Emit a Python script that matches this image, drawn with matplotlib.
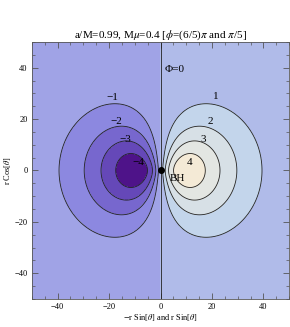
import numpy as np
import matplotlib
matplotlib.use("Agg")
from matplotlib import pyplot as plt

plt.rcParams['font.family'] = ['Liberation Serif', 'DejaVu Serif']
plt.rcParams['mathtext.fontset'] = 'stix'

# contour levels and their labels
levels = [-4, -3, -2, -1, 0, 1, 2, 3, 4]
label_text = ['\u22124', '\u22123', '\u22122', '\u22121', '1', '2', '3', '4']
label_x = [-8.5, -13.6, -17.0, -18.6, 21.3, 19.4, 16.7, 11.2]
label_y = [3.1, 12.0, 19.0, 28.5, 28.9, 19.0, 12.0, 3.1]

# field shape: amplitude and radial scale estimated from the contour sizes
amp = 1.31
scale = 10.0

fill_colors = ['#4e1389', '#6548b8', '#7767ce', '#8c88e0', '#a0a3e6',
               '#b0bbe9', '#c3d5eb', '#d7e0e6', '#e3e6e2', '#f4ead6']

xs = np.linspace(-50, 50, 501)
X, Y = np.meshgrid(xs, xs)
R = np.sqrt(X**2 + Y**2)
Z = amp * X * np.exp(-R / scale)

fig = plt.figure(figsize=(2.9, 3.27), dpi=100)
ax = fig.add_axes([0.110, 0.0856, 0.887, 0.786])

bounds = [-100] + levels + [100]
ax.contourf(X, Y, Z, levels=bounds, colors=fill_colors)
ax.contour(X, Y, Z, levels=levels, colors='#222222', linewidths=0.6,
           linestyles='solid')

for t, lx, ly in zip(label_text, label_x, label_y):
    ax.text(lx, ly, t, ha='center', va='center', fontsize=8)

ax.plot([0], [0], 'o', color='black', markersize=4)
ax.text(6.6, -3.3, 'BH', ha='center', va='center', fontsize=8)
ax.text(5.6, 39.2, '\u03a6=0', ha='center', va='center', fontsize=8)

ax.set_xlim(-50, 50)
ax.set_ylim(-50, 50)
ax.set_xticks([-40, -20, 0, 20, 40])
ax.set_yticks([-40, -20, 0, 20, 40])
ax.set_xticklabels(['\u221240', '\u221220', '0', '20', '40'])
ax.set_yticklabels(['\u221240', '\u221220', '0', '20', '40'])
ax.set_xticks(np.arange(-50, 51, 5), minor=True)
ax.set_yticks(np.arange(-50, 51, 5), minor=True)
ax.tick_params(which='both', direction='in', top=True, right=True,
               labelsize=6, color='#555555', pad=3)
ax.tick_params(which='major', length=4, width=0.6)
ax.tick_params(which='minor', length=2, width=0.5)
for s in ax.spines.values():
    s.set_color('#555555')
    s.set_linewidth(0.6)

ax.set_title(r'a/M=0.99, M$\mu$=0.4 [$\phi$=(6/5)$\pi$ and $\pi$/5]',
             fontsize=8, pad=1.5)
ax.set_xlabel(r'$-$r Sin[$\theta$] and r Sin[$\theta$]', fontsize=6)
ax.set_ylabel(r'r Cos[$\theta$]', fontsize=6)
ax.xaxis.set_label_coords(0.5, -0.05)
ax.yaxis.set_label_coords(-0.074, 0.5)

fig.savefig('out.png', dpi=100)
